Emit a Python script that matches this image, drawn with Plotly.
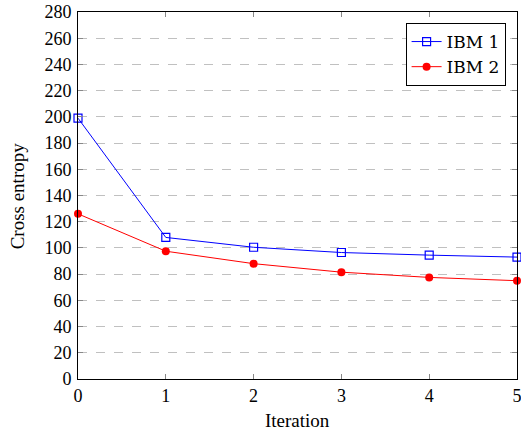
import plotly.graph_objects as go

iterations = [0, 1, 2, 3, 4, 5]
ibm1 = [199, 108, 100.5, 96.5, 94.5, 93]
ibm2 = [126, 97.5, 88, 81.5, 77.5, 75]
y_ticks = list(range(0, 281, 20))

font = "Liberation Serif"

fig = go.Figure()
fig.add_trace(go.Scatter(
    x=iterations, y=ibm1, name="IBM 1", mode="lines+markers",
    line=dict(color="blue", width=1),
    marker=dict(symbol="square-open", size=8, color="blue", line=dict(width=1.2, color="blue")),
    cliponaxis=False,
))
fig.add_trace(go.Scatter(
    x=iterations, y=ibm2, name="IBM 2", mode="lines+markers",
    line=dict(color="red", width=1),
    marker=dict(symbol="circle", size=8, color="red"),
    cliponaxis=False,
))

fig.update_layout(
    width=521, height=434,
    margin=dict(l=78, r=4, t=12, b=55, autoexpand=False),
    plot_bgcolor="white", paper_bgcolor="white",
    font=dict(family=font, size=18, color="black"),
    showlegend=True,
    legend=dict(
        x=0.974, y=0.97, xanchor="right", yanchor="top",
        bordercolor="black", borderwidth=1, bgcolor="white",
        font=dict(family="DejaVu Serif", size=17, color="black"), tracegroupgap=0,
        itemwidth=30,
    ),
    xaxis=dict(
        range=[0, 5], tickvals=iterations, showgrid=False, zeroline=False,
        showline=True, linecolor="black", linewidth=1, mirror="ticks",
        ticks="inside", ticklen=5, tickcolor="#888", automargin=False,
        tickfont=dict(size=18), ticklabeloverflow="allow",
    ),
    yaxis=dict(
        range=[0, 280], tickvals=y_ticks, showgrid=True, gridcolor="#c0c0c0",
        griddash="dash", gridwidth=1, zeroline=False,
        showline=True, linecolor="black", linewidth=1, mirror="ticks",
        ticks="inside", ticklen=5, tickcolor="#888", automargin=False,
        tickfont=dict(size=18), ticklabelstandoff=2, ticklabeloverflow="allow",
    ),
    annotations=[
        dict(text="Iteration", x=0.5, y=-0.112, xref="paper", yref="paper",
             xanchor="center", yanchor="middle", showarrow=False, font=dict(size=19)),
        dict(text="Cross entropy", x=-0.137, y=0.5, xref="paper", yref="paper",
             xanchor="center", yanchor="middle",
             showarrow=False, textangle=-90, font=dict(size=19)),
    ],
)

fig.write_html("out.html", config={"displayModeBar": False},
               post_script="document.body.style.margin='0';document.body.style.overflow='hidden';")
